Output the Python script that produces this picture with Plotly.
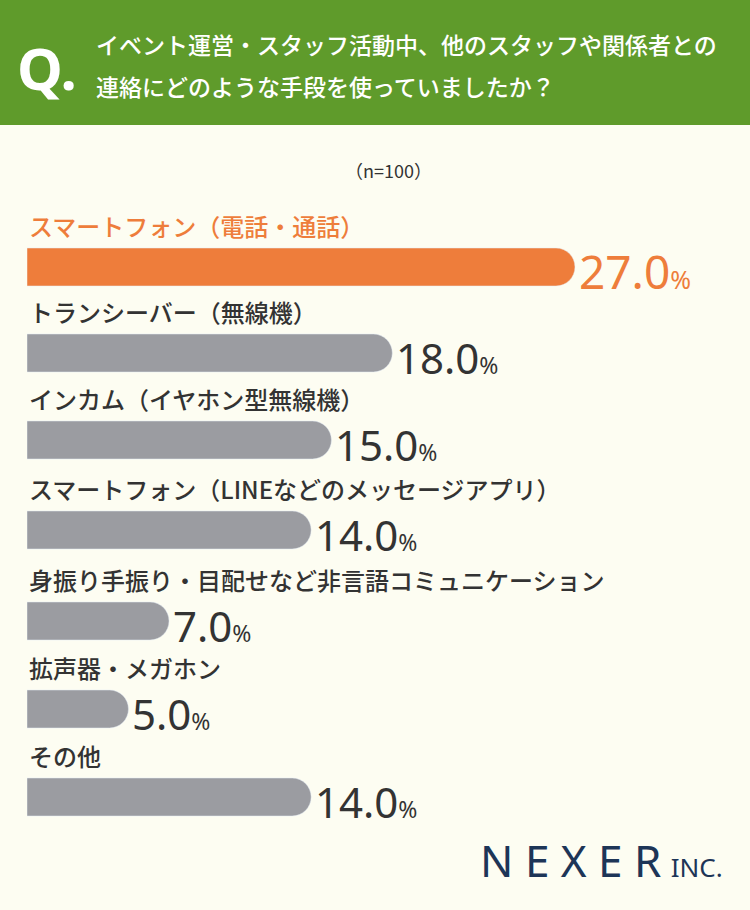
import plotly.graph_objects as go

labels = ["スマートフォン（電話・通話）", "トランシーバー（無線機）", "インカム（イヤホン型無線機）",
          "スマートフォン（LINEなどのメッセージアプリ）", "身振り手振り・目配せなど非言語コミュニケーション",
          "拡声器・メガホン", "その他"]
values = [27.0, 18.0, 15.0, 14.0, 7.0, 5.0, 14.0]
rows = [267, 353, 440, 530, 621, 709, 797]

ORANGE = "#ee7d3b"; GRAY = "#9b9ca1"; DARK = "#333333"
colors = [ORANGE] + [GRAY] * 6
FONT = "Noto Sans CJK JP"

fig = go.Figure(go.Bar(x=values, y=rows, orientation="h", width=38,
                       marker=dict(color=colors, cornerradius=19), hoverinfo="skip"))

ann = []
for lab, v, y, c in zip(labels, values, rows, colors):
    ann.append(dict(x=0, y=y - 42, text=lab, xanchor="left", yanchor="middle", showarrow=False,
                    font=dict(size=24, color=c if c == ORANGE else DARK, family=FONT, weight=500)))
    big = 46 if c == ORANGE else 42
    ann.append(dict(x=v, y=y + 4, text=f"<span style='font-size:{big}px'>{v:.1f}</span><span style='font-size:{int(big*0.55)}px'>%</span>",
                    xanchor="left", yanchor="middle", showarrow=False, xshift=2,
                    font=dict(color=c if c == ORANGE else DARK, family="Noto Sans", weight=400)))
ann += [
    dict(xref="paper", yref="paper", x=0.0, y=1 - 68/910, text="<b>Q.</b>", xanchor="left", yanchor="middle",
         showarrow=False, font=dict(size=58, color="white", family="Noto Sans"), xshift=-12),
    dict(xref="paper", yref="paper", x=0.092, y=1 - 44/910, text="イベント運営・スタッフ活動中、他のスタッフや関係者との",
         xanchor="left", yanchor="middle", showarrow=False, font=dict(size=23, color="white", family=FONT, weight=500)),
    dict(xref="paper", yref="paper", x=0.092, y=1 - 86/910, text="連絡にどのような手段を使っていましたか？",
         xanchor="left", yanchor="middle", showarrow=False, font=dict(size=23, color="white", family=FONT, weight=500)),
    dict(xref="paper", yref="paper", x=0.5, y=1 - 170/910, text="（n=100）", xanchor="center", yanchor="middle",
         showarrow=False, font=dict(size=18, color=DARK, family=FONT)),
    dict(xref="paper", yref="paper", x=0.965, y=1 - 860/910,
         text="<span style='font-size:44px'>N E X E R</span>   <span style='font-size:26px'>INC.</span>",
         xanchor="right", yanchor="middle", showarrow=False, font=dict(color="#1d3557", family="Noto Sans", weight=400)),
]

fig.update_layout(
    width=750, height=910, margin=dict(l=27, r=0, t=0, b=0),
    paper_bgcolor="#fdfdf2", plot_bgcolor="rgba(0,0,0,0)", showlegend=False,
    xaxis=dict(range=[0, 27 * 723 / 548], visible=False, fixedrange=True),
    yaxis=dict(range=[910, 0], visible=False, fixedrange=True),
    shapes=[dict(type="rect", xref="paper", yref="paper", x0=-0.05, x1=1.05, y0=1 - 125/910, y1=1,
                 fillcolor="#5f9b2b", line_width=0, layer="below")],
    annotations=ann,
)
fig.write_html("out.html", post_script="document.body.style.margin='0';",
               config={"displayModeBar": False})
